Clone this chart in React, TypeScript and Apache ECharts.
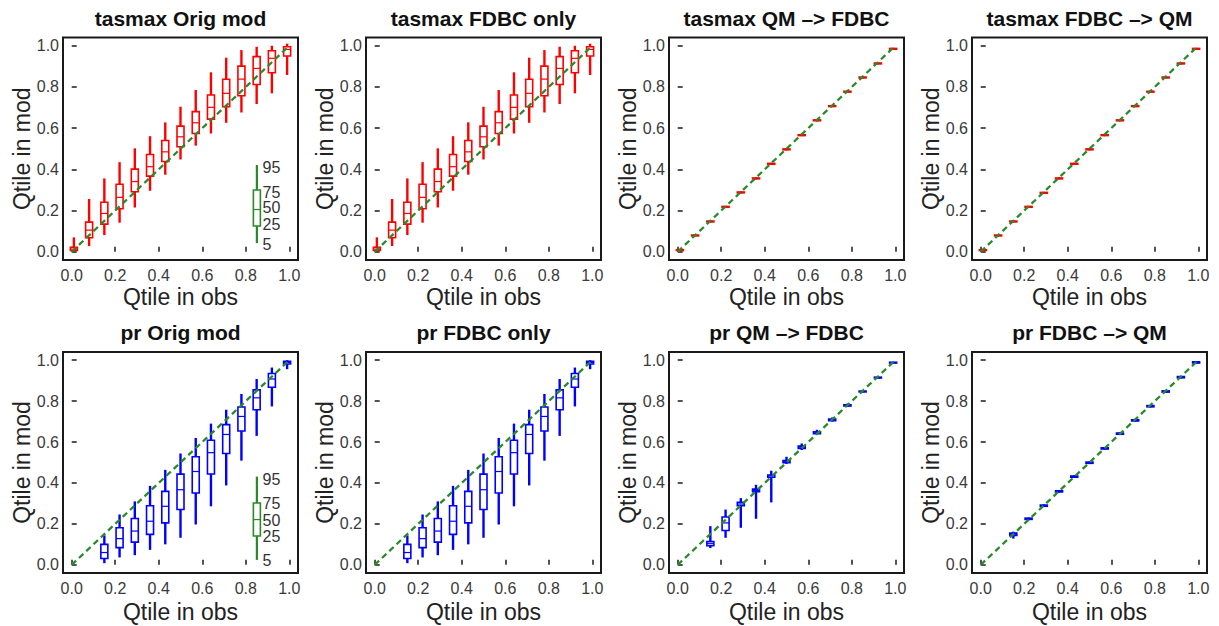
import React, { useEffect, useRef } from "react";
import * as echarts from "echarts";

// ---------- data ----------
const xObs = [0.01, 0.08, 0.15, 0.22, 0.29, 0.36, 0.43, 0.5, 0.57, 0.64, 0.71, 0.78, 0.85, 0.92, 0.99];
const tickValues = [0, 0.2, 0.4, 0.6, 0.8, 1.0];

// each entry: [p5, p25, p50, p75, p95] (null = no box)
const tasOrig = [
  [0.0, 0.006, 0.013, 0.022, 0.07],
  [0.028, 0.068, 0.105, 0.144, 0.256],
  [0.081, 0.134, 0.186, 0.24, 0.356],
  [0.141, 0.209, 0.264, 0.328, 0.435],
  [0.215, 0.291, 0.341, 0.401, 0.502],
  [0.296, 0.367, 0.413, 0.472, 0.561],
  [0.374, 0.438, 0.485, 0.54, 0.628],
  [0.448, 0.51, 0.558, 0.61, 0.704],
  [0.515, 0.574, 0.626, 0.68, 0.785],
  [0.574, 0.644, 0.701, 0.761, 0.871],
  [0.626, 0.704, 0.769, 0.837, 0.942],
  [0.676, 0.757, 0.838, 0.901, 0.979],
  [0.717, 0.812, 0.89, 0.947, 0.995],
  [0.769, 0.869, 0.939, 0.976, 1.0],
  [0.858, 0.95, 0.982, 0.995, 1.01],
];
const tasFdbc = [
  [0.0, 0.006, 0.013, 0.022, 0.07],
  [0.028, 0.068, 0.105, 0.144, 0.256],
  [0.081, 0.134, 0.186, 0.24, 0.356],
  [0.141, 0.209, 0.264, 0.328, 0.435],
  [0.215, 0.291, 0.341, 0.401, 0.502],
  [0.296, 0.367, 0.413, 0.472, 0.561],
  [0.374, 0.438, 0.485, 0.54, 0.628],
  [0.448, 0.51, 0.558, 0.61, 0.704],
  [0.515, 0.574, 0.626, 0.68, 0.785],
  [0.574, 0.644, 0.701, 0.761, 0.871],
  [0.626, 0.704, 0.769, 0.837, 0.942],
  [0.676, 0.757, 0.838, 0.901, 0.979],
  [0.717, 0.812, 0.89, 0.947, 0.995],
  [0.769, 0.869, 0.939, 0.976, 1.0],
  [0.858, 0.95, 0.982, 0.995, 1.01],
];
const tasQmFdbc = [
  [0.003, 0.006, 0.008, 0.01, 0.013],
  [0.074, 0.077, 0.079, 0.081, 0.084],
  [0.142, 0.145, 0.147, 0.149, 0.152],
  [0.213, 0.216, 0.218, 0.22, 0.223],
  [0.283, 0.286, 0.288, 0.29, 0.293],
  [0.351, 0.354, 0.356, 0.358, 0.361],
  [0.422, 0.425, 0.427, 0.429, 0.432],
  [0.492, 0.495, 0.497, 0.499, 0.502],
  [0.561, 0.564, 0.566, 0.568, 0.571],
  [0.633, 0.636, 0.638, 0.64, 0.643],
  [0.702, 0.705, 0.707, 0.709, 0.712],
  [0.772, 0.775, 0.777, 0.779, 0.782],
  [0.841, 0.844, 0.846, 0.848, 0.851],
  [0.909, 0.912, 0.914, 0.916, 0.919],
  [0.98, 0.983, 0.985, 0.987, 0.99],
];
const tasFdbcQm = [
  [0.003, 0.006, 0.008, 0.01, 0.013],
  [0.074, 0.077, 0.079, 0.081, 0.084],
  [0.142, 0.145, 0.147, 0.149, 0.152],
  [0.213, 0.216, 0.218, 0.22, 0.223],
  [0.281, 0.284, 0.286, 0.288, 0.291],
  [0.351, 0.354, 0.356, 0.358, 0.361],
  [0.422, 0.425, 0.427, 0.429, 0.432],
  [0.492, 0.495, 0.497, 0.499, 0.502],
  [0.561, 0.564, 0.566, 0.568, 0.571],
  [0.633, 0.636, 0.638, 0.64, 0.643],
  [0.702, 0.705, 0.707, 0.709, 0.712],
  [0.772, 0.775, 0.777, 0.779, 0.782],
  [0.841, 0.844, 0.846, 0.848, 0.851],
  [0.909, 0.912, 0.914, 0.916, 0.919],
  [0.98, 0.983, 0.985, 0.987, 0.99],
];
const prOrig = [
  null,
  null,
  [0.008, 0.031, 0.06, 0.1, 0.144],
  [0.036, 0.084, 0.128, 0.181, 0.246],
  [0.047, 0.111, 0.165, 0.226, 0.31],
  [0.073, 0.149, 0.213, 0.289, 0.386],
  [0.1, 0.205, 0.286, 0.359, 0.464],
  [0.132, 0.27, 0.367, 0.443, 0.544],
  [0.197, 0.351, 0.456, 0.528, 0.62],
  [0.286, 0.444, 0.548, 0.609, 0.69],
  [0.388, 0.544, 0.637, 0.685, 0.758],
  [0.509, 0.654, 0.725, 0.771, 0.835],
  [0.63, 0.758, 0.816, 0.855, 0.908],
  [0.774, 0.868, 0.908, 0.935, 0.964],
  [0.956, 0.981, 0.989, 0.994, 1.0],
];
const prFdbc = [
  null,
  null,
  [0.008, 0.031, 0.06, 0.1, 0.144],
  [0.036, 0.084, 0.128, 0.181, 0.246],
  [0.047, 0.111, 0.165, 0.226, 0.31],
  [0.073, 0.149, 0.213, 0.289, 0.386],
  [0.1, 0.205, 0.286, 0.359, 0.464],
  [0.132, 0.27, 0.367, 0.443, 0.544],
  [0.197, 0.351, 0.456, 0.528, 0.62],
  [0.286, 0.444, 0.548, 0.609, 0.69],
  [0.388, 0.544, 0.637, 0.685, 0.758],
  [0.509, 0.654, 0.725, 0.771, 0.835],
  [0.63, 0.758, 0.816, 0.855, 0.908],
  [0.774, 0.868, 0.908, 0.935, 0.964],
  [0.956, 0.981, 0.989, 0.994, 1.0],
];
const prQmFdbc = [
  null,
  null,
  [0.082, 0.094, 0.105, 0.114, 0.189],
  [0.132, 0.168, 0.205, 0.234, 0.27],
  [0.181, 0.289, 0.297, 0.305, 0.326],
  [0.225, 0.357, 0.363, 0.37, 0.391],
  [0.305, 0.428, 0.435, 0.439, 0.46],
  [0.493, 0.499, 0.504, 0.509, 0.528],
  [0.561, 0.569, 0.575, 0.58, 0.593],
  [0.636, 0.641, 0.645, 0.65, 0.66],
  [0.7, 0.704, 0.708, 0.712, 0.72],
  [0.772, 0.776, 0.779, 0.782, 0.788],
  [0.842, 0.845, 0.847, 0.849, 0.853],
  [0.911, 0.913, 0.915, 0.917, 0.92],
  [0.984, 0.986, 0.988, 0.99, 0.992],
];
const prFdbcQm = [
  null,
  null,
  [0.128, 0.143, 0.149, 0.155, 0.162],
  [0.219, 0.222, 0.225, 0.228, 0.231],
  [0.283, 0.286, 0.289, 0.292, 0.295],
  [0.353, 0.356, 0.359, 0.362, 0.365],
  [0.425, 0.428, 0.431, 0.434, 0.437],
  [0.493, 0.496, 0.499, 0.502, 0.505],
  [0.563, 0.566, 0.569, 0.572, 0.575],
  [0.635, 0.638, 0.641, 0.644, 0.647],
  [0.7, 0.703, 0.706, 0.709, 0.712],
  [0.769, 0.772, 0.775, 0.778, 0.781],
  [0.841, 0.844, 0.847, 0.85, 0.853],
  [0.911, 0.914, 0.917, 0.92, 0.923],
  [0.983, 0.986, 0.989, 0.992, 0.995],
];

// inset key box (percentiles 5,25,50,75,95)
const keyX = 0.851;
const keyLabelX = 0.877;
const keyLabels = ["5", "25", "50", "75", "95"];
const keyStatsTop = [0.042, 0.125, 0.205, 0.3, 0.421];
const keyLabelYTop = [0.035, 0.13, 0.215, 0.29, 0.41];
const keyStatsBottom = [0.024, 0.141, 0.221, 0.302, 0.431];
const keyLabelYBottom = [0.02, 0.137, 0.219, 0.3, 0.418];

const titles = [
  "tasmax Orig mod", "tasmax FDBC only", "tasmax QM \u2013> FDBC", "tasmax FDBC \u2013> QM",
  "pr Orig mod", "pr FDBC only", "pr QM \u2013> FDBC", "pr FDBC \u2013> QM",
];
const xTitle = "Qtile in obs";
const yTitle = "Qtile in mod";

// ---------- layout / style ----------
const RED = "#ff0000";
const BLUE = "#0000ff";
const GREEN = "#2a8a2a";
const FONT = '"Liberation Sans", Arial, Helvetica, sans-serif';
const colLeft = [63, 366, 669, 972];
const colWidth = 235;
const rowTop = [37.5, 352];
const rowHeight = [222.5, 221];

function boxRenderer(color: string) {
  return (params: any, api: any) => {
    const x = api.value(0);
    const lo = api.coord([x, api.value(1)]);
    const q1 = api.coord([x, api.value(2)]);
    const md = api.coord([x, api.value(3)]);
    const q3 = api.coord([x, api.value(4)]);
    const hi = api.coord([x, api.value(5)]);
    const cx = lo[0];
    const hw = 3.5;
    return {
      type: "group",
      children: [
        { type: "line", shape: { x1: cx, y1: hi[1], x2: cx, y2: lo[1] }, style: { stroke: color, lineWidth: 2.4 } },
        {
          type: "rect",
          shape: { x: cx - hw, y: q3[1], width: hw * 2, height: Math.max(q1[1] - q3[1], 0.5) },
          style: { fill: "#ffffff", stroke: color, lineWidth: 1.6 },
        },
        { type: "line", shape: { x1: cx - hw, y1: md[1], x2: cx + hw, y2: md[1] }, style: { stroke: color, lineWidth: 1.2 } },
      ],
    };
  };
}

function keyRenderer(labelY: number[]) {
  return (params: any, api: any) => {
    const x = api.value(0);
    const lo = api.coord([x, api.value(1)]);
    const q1 = api.coord([x, api.value(2)]);
    const md = api.coord([x, api.value(3)]);
    const q3 = api.coord([x, api.value(4)]);
    const hi = api.coord([x, api.value(5)]);
    const cx = lo[0];
    const hw = 3.5;
    const children: any[] = [
      { type: "line", shape: { x1: cx, y1: hi[1], x2: cx, y2: lo[1] }, style: { stroke: GREEN, lineWidth: 2.2 } },
      {
        type: "rect",
        shape: { x: cx - hw, y: q3[1], width: hw * 2, height: q1[1] - q3[1] },
        style: { fill: "#ffffff", stroke: GREEN, lineWidth: 1.6 },
      },
      { type: "line", shape: { x1: cx - hw, y1: md[1], x2: cx + hw, y2: md[1] }, style: { stroke: GREEN, lineWidth: 1.2 } },
    ];
    keyLabels.forEach((lab, k) => {
      const p = api.coord([keyLabelX, labelY[k]]);
      children.push({
        type: "text",
        x: p[0],
        y: p[1],
        style: {
          text: lab,
          fill: "#333",
          font: `16px ${FONT}`,
          textAlign: "left",
          textVerticalAlign: "middle",
          verticalAlign: "middle",
        },
      });
    });
    return { type: "group", children };
  };
}

function toSeriesData(stats: (number[] | null)[]) {
  const out: number[][] = [];
  stats.forEach((s, i) => {
    if (s) out.push([xObs[i], ...s]);
  });
  return out;
}

export default function App() {
  const ref = useRef<HTMLDivElement>(null);

  useEffect(() => {
    if (!ref.current) return;
    const chart = echarts.init(ref.current, undefined, { renderer: "svg" });

    const panels = [
      { stats: tasOrig, color: RED, key: "top" },
      { stats: tasFdbc, color: RED, key: null },
      { stats: tasQmFdbc, color: RED, key: null },
      { stats: tasFdbcQm, color: RED, key: null },
      { stats: prOrig, color: BLUE, key: "bottom" },
      { stats: prFdbc, color: BLUE, key: null },
      { stats: prQmFdbc, color: BLUE, key: null },
      { stats: prFdbcQm, color: BLUE, key: null },
    ];

    const grid: any[] = [];
    const xAxis: any[] = [];
    const yAxis: any[] = [];
    const series: any[] = [];
    const graphic: any[] = [];

    panels.forEach((p, i) => {
      const r = Math.floor(i / 4);
      const c = i % 4;
      const left = colLeft[c];
      const top = rowTop[r];
      const h = rowHeight[r];
      grid.push({
        left,
        top,
        width: colWidth,
        height: h,
        show: true,
        borderColor: "#1a1a1a",
        borderWidth: 2,
        backgroundColor: "transparent",
        containLabel: false,
      });
      const axisCommon = {
        type: "value",
        min: -0.04,
        max: 1.04,
        gridIndex: i,
        axisLine: { show: false },
        splitLine: { show: false },
        axisTick: {
          show: true,
          inside: true,
          length: 5,
          lineStyle: { color: "#1a1a1a", width: 1.5 },
          customValues: tickValues,
        },
        axisLabel: {
          show: true,
          color: "#3a3a3a",
          fontSize: 16,
          fontFamily: FONT,
          customValues: tickValues,
          formatter: (v: number) => v.toFixed(1),
        },
      };
      xAxis.push({ ...axisCommon, axisLabel: { ...axisCommon.axisLabel, margin: 7 } });
      yAxis.push({ ...axisCommon, axisLabel: { ...axisCommon.axisLabel, margin: 4 } });

      series.push({
        type: "custom",
        xAxisIndex: i,
        yAxisIndex: i,
        renderItem: boxRenderer(p.color),
        data: toSeriesData(p.stats),
        clip: false,
        z: 2,
      });
      series.push({
        type: "line",
        xAxisIndex: i,
        yAxisIndex: i,
        data: [
          [0, 0],
          [1, 1],
        ],
        symbol: "none",
        lineStyle: { color: GREEN, width: 2.3, type: [6, 4] },
        z: 3,
        silent: true,
      });
      if (p.key) {
        const stats = p.key === "top" ? keyStatsTop : keyStatsBottom;
        const ly = p.key === "top" ? keyLabelYTop : keyLabelYBottom;
        series.push({
          type: "custom",
          xAxisIndex: i,
          yAxisIndex: i,
          renderItem: keyRenderer(ly),
          data: [[keyX, ...stats]],
          clip: false,
          z: 2,
        });
      }

      const cx = left + colWidth / 2;
      graphic.push({
        type: "text",
        x: cx,
        y: r === 0 ? 18 : 332,
        style: {
          text: titles[i],
          fill: "#111",
          font: `bold 21px ${FONT}`,
          textAlign: "center",
          textVerticalAlign: "middle",
          verticalAlign: "middle",
        },
      });
      graphic.push({
        type: "text",
        x: cx,
        y: r === 0 ? 297 : 612,
        style: {
          text: xTitle,
          fill: "#222",
          font: `23px ${FONT}`,
          textAlign: "center",
          textVerticalAlign: "middle",
          verticalAlign: "middle",
        },
      });
      graphic.push({
        type: "text",
        x: left - 41,
        y: top + h / 2,
        rotation: Math.PI / 2,
        style: {
          text: yTitle,
          fill: "#222",
          font: `23px ${FONT}`,
          textAlign: "center",
          textVerticalAlign: "middle",
          verticalAlign: "middle",
        },
      });
    });

    chart.setOption({
      animation: false,
      backgroundColor: "#ffffff",
      grid,
      xAxis,
      yAxis,
      series,
      graphic,
    });

    return () => chart.dispose();
  }, []);

  return (
    <div
      ref={ref}
      style={{ position: "fixed", left: 0, top: 0, width: 1219, height: 626, background: "#fff" }}
    />
  );
}
